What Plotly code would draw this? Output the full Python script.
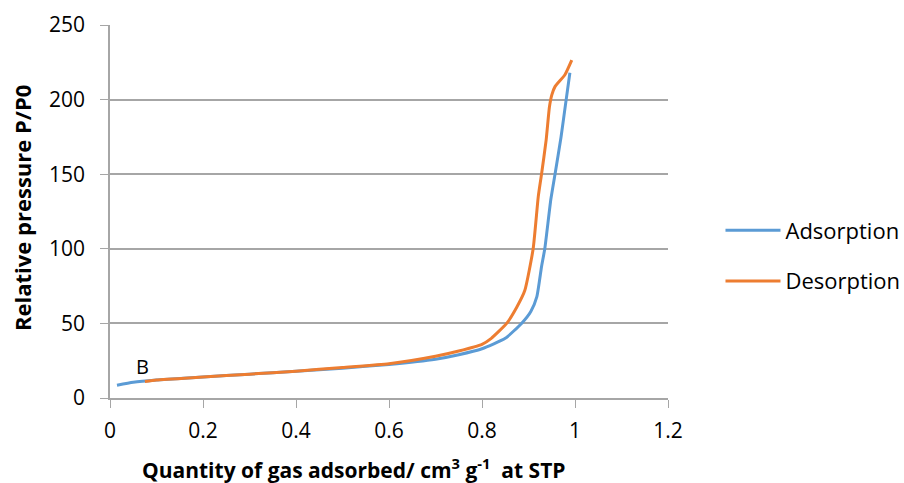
import plotly.graph_objects as go

ads_x = [0.015, 0.05, 0.1, 0.2, 0.3, 0.4, 0.5, 0.6, 0.7, 0.75, 0.8, 0.85, 0.885, 0.905, 0.918, 0.928, 0.935, 0.948, 0.957, 0.97, 0.981, 0.989]
ads_y = [8.5, 10.5, 12, 14, 16, 18, 20, 22.5, 26, 29, 33, 40, 50, 58, 68, 88, 100, 133, 150, 175, 200, 218]

des_x = [0.075, 0.1, 0.2, 0.3, 0.4, 0.5, 0.6, 0.7, 0.75, 0.8, 0.82, 0.853, 0.875, 0.892, 0.91, 0.921, 0.928, 0.938, 0.945, 0.95, 0.957, 0.978, 0.993]
des_y = [11, 12, 14, 16, 18, 20.5, 23, 28, 31.5, 36, 40, 50, 61, 72, 100, 135, 150, 173, 195, 203, 208.7, 216.5, 226.5]

x_ticks = [0, 0.2, 0.4, 0.6, 0.8, 1, 1.2]
x_tick_labels = ["0", "0.2", "0.4", "0.6", "0.8", "1", "1.2"]
y_ticks = [0, 50, 100, 150, 200, 250]

FONT = "Open Sans"

fig = go.Figure()
fig.add_trace(go.Scatter(x=ads_x, y=ads_y, mode="lines", name="Adsorption", legendgroup="a",
                         line=dict(color="#5B9BD5", width=3, shape="spline", smoothing=0.5)))
fig.add_trace(go.Scatter(x=des_x, y=des_y, mode="lines", name="Desorption", legendgroup="d",
                         line=dict(color="#ED7D31", width=3, shape="spline", smoothing=0.5)))

fig.add_annotation(x=0.07, y=11, text="B", showarrow=False, xanchor="center", yanchor="bottom",
                   font=dict(size=20, color="black", family=FONT))

fig.add_annotation(xref="paper", yref="paper", x=0.437, y=-0.188, xanchor="center", yanchor="middle",
                   showarrow=False,
                   text="<b>Quantity of gas adsorbed/ cm<sup>3</sup> g<sup>-1</sup>  at STP</b>",
                   font=dict(size=21, family=FONT, color="black"))
fig.add_annotation(xref="paper", yref="paper", x=-0.158, y=0.509, xanchor="center", yanchor="middle",
                   showarrow=False, textangle=-90,
                   text="<b>Relative pressure P/P0</b>",
                   font=dict(size=22, family=FONT, color="black"))

fig.update_layout(
    width=904, height=483,
    margin=dict(l=110, r=236, t=25, b=85, autoexpand=False),
    paper_bgcolor="white", plot_bgcolor="white",
    font=dict(family=FONT, size=20, color="black"),
    showlegend=True,
    legend=dict(xref="container", yref="container", x=0.797, y=0.47, xanchor="left", yanchor="middle",
                font=dict(size=22, family=FONT, color="black"),
                itemwidth=55, tracegroupgap=19, bgcolor="rgba(0,0,0,0)"),
    xaxis=dict(range=[0, 1.2], tickvals=x_ticks, ticktext=x_tick_labels, automargin=False,
               showgrid=False, zeroline=False, showline=True, linecolor="#A6A6A6", linewidth=1.5,
               ticks="outside", ticklen=8, tickcolor="#A6A6A6", ticklabelstandoff=5,
               tickfont=dict(size=21, family=FONT)),
    yaxis=dict(range=[0, 250], tickvals=y_ticks, automargin=False,
               showgrid=True, gridcolor="#A6A6A6", gridwidth=1.5, zeroline=False,
               showline=True, linecolor="#A6A6A6", linewidth=1.5,
               ticks="outside", ticklen=8, tickcolor="#A6A6A6", ticklabelstandoff=11,
               tickfont=dict(size=21, family=FONT)),
)

fig.write_html("out.html")
